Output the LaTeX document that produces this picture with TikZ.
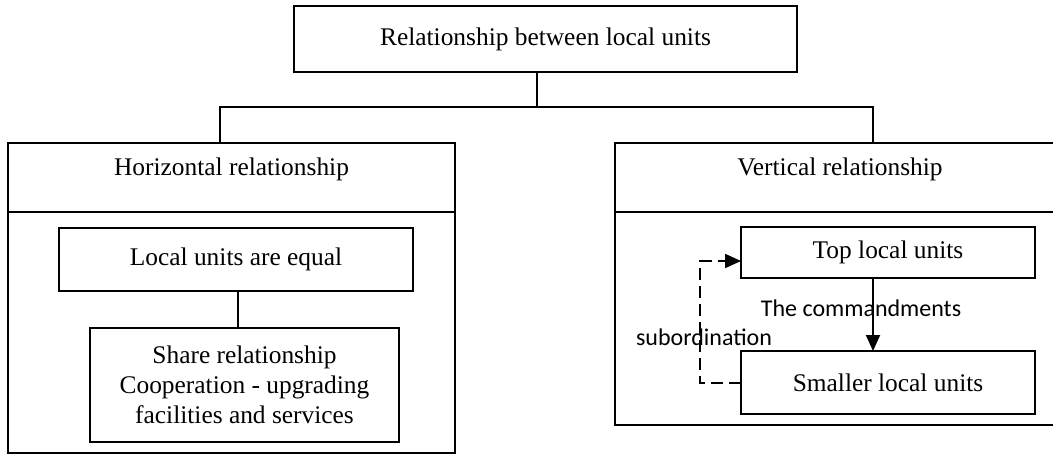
\documentclass[tikz,border=0pt]{standalone}
\usepackage{fontspec}
\setmainfont{Liberation Serif}
\newfontfamily\notefont{Carlito}
\usetikzlibrary{arrows.meta}

\tikzstyle{box}=[draw, line width=0.6pt, inner sep=0pt, outer sep=0pt, align=center, font=\fontsize{12.7}{15}\selectfont]
\tikzstyle{head}=[box, text depth=10.6pt]
\tikzstyle{note}=[inner sep=0pt, font=\notefont\fontsize{12}{14}\selectfont]
\tikzstyle{link}=[line width=0.6pt]
\tikzstyle{arrow}=[line width=1pt, -{Triangle[length=8pt, width=7pt]}]
\tikzstyle{dasharrow}=[arrow, dash pattern=on 6pt off 3pt]

\begin{document}
\begin{tikzpicture}[x=0.5pt, y=-0.5pt]
      \clip (0, 0) rectangle (1053, 454);

      \node[box, minimum width=251.5pt, minimum height=33pt] (rel) at (545.5, 39) {Relationship between local units};

      \node[head, minimum width=223.5pt, minimum height=34.5pt] (hhead) at (231.5, 177.5) {Horizontal relationship};
      \node[box, minimum width=223.5pt, minimum height=120.5pt] (hbody) at (231.5, 332.5) {};
      \node[head, minimum width=225pt, minimum height=34.5pt] (vhead) at (840, 177.5) {Vertical relationship};
      \node[box, minimum width=225pt, minimum height=106.5pt] (vbody) at (840, 318.5) {};

      \node[box, minimum width=177pt, minimum height=31.5pt] (equal) at (236, 259.5) {Local units are equal};
      \node[box, minimum width=154.5pt, minimum height=57pt] (share) at (244.5, 385) {Share relationship\\Cooperation - upgrading\\facilities and services};

      \node[box, minimum width=147pt, minimum height=25.5pt] (toplu) at (888, 252.5) {Top local units};
      \node[box, minimum width=147pt, minimum height=31.5pt] (smalllu) at (888, 382.5) {Smaller local units};

      \node[note] (cmd) at (861, 308) {The commandments};
      \node[note] (sub) at (704, 337) {subordination};

      \coordinate (bus) at (537, 107);
      \draw[link] ([xshift=-4.25pt]rel.south) -- (bus);
      \draw[link] ([xshift=-5.75pt]hhead.north) |- (bus) -| ([xshift=16.5pt]vhead.north);
      \draw[link] ([xshift=1pt]equal.south) -- ([xshift=-3.25pt]share.north);

      \draw[arrow] ([xshift=-7.5pt]toplu.south) -- ([xshift=-7.5pt]smalllu.north);
      \draw[dasharrow] (smalllu.west) -- ++(-41, 0) |- ([yshift=-4.25pt]toplu.west);
    \end{tikzpicture}
\end{document}
